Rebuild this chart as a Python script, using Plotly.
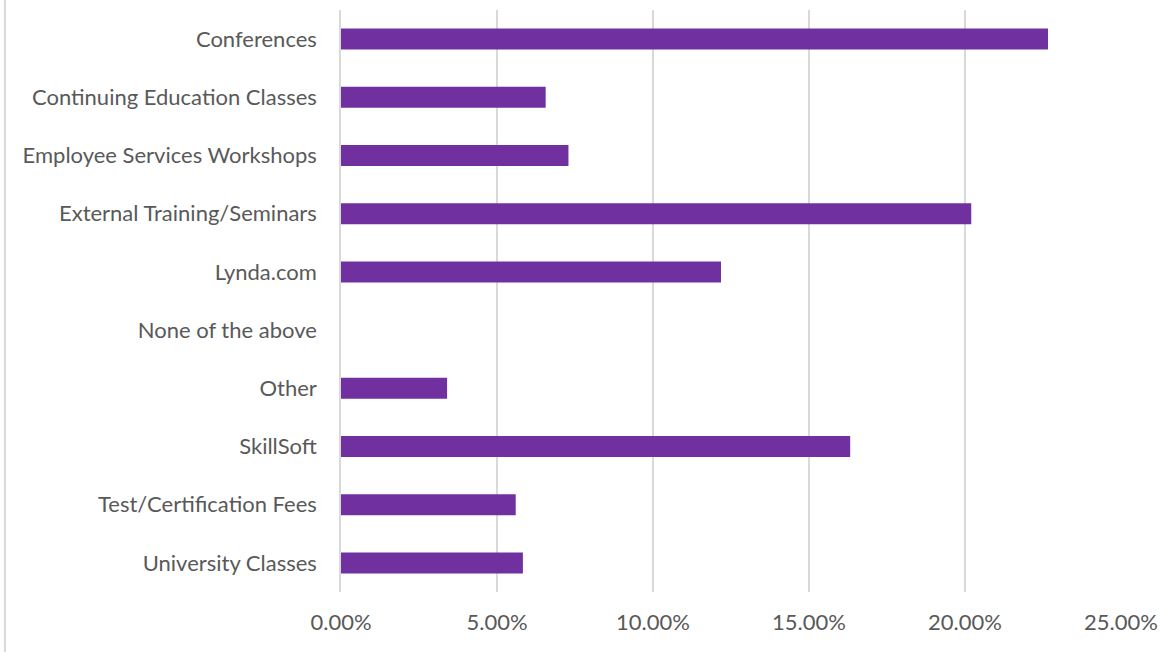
import plotly.graph_objects as go

categories = ["Conferences", "Continuing Education Classes", "Employee Services Workshops",
              "External Training/Seminars", "Lynda.com", "None of the above", "Other",
              "SkillSoft", "Test/Certification Fees", "University Classes"]
values = [0.2266, 0.0656, 0.0729, 0.2020, 0.1218, 0.0, 0.0340, 0.1632, 0.0560, 0.0583]
x_ticks = [0, 0.05, 0.10, 0.15, 0.20, 0.25]

fig = go.Figure(go.Bar(
    y=categories, x=values, orientation="h",
    marker=dict(color="#7030A0", line=dict(width=0)),
))

L, R, T, B = 340.5, 54.5, 10, 60
PW, PH = 1176 - L - R, 652 - T - B

font_family = "Lato, Calibri, Carlito, sans-serif"
fig.update_layout(
    width=1176, height=652,
    margin=dict(l=L, r=R, t=T, b=B),
    paper_bgcolor="white", plot_bgcolor="white",
    bargap=0.64,
    showlegend=False,
    font=dict(family=font_family, size=22, color="#595959"),
)
fig.update_xaxes(
    range=[0, 0.25], tickvals=x_ticks, tickformat=".2%",
    showgrid=True, gridcolor="#D9D9D9", gridwidth=1.5,
    zeroline=False, showline=False,
    ticks="", ticklabelstandoff=15,
    tickfont=dict(size=22, color="#595959"),
)
fig.update_yaxes(
    autorange="reversed", showgrid=False, zeroline=False,
    showline=True, linecolor="#D9D9D9", linewidth=1.5,
    ticks="", ticklabelstandoff=18,
    tickfont=dict(size=22, color="#595959"),
)
fig.add_shape(type="line", xref="paper", yref="paper", x0=(4 - L) / PW, x1=(4 - L) / PW,
              y0=-B / PH, y1=1 + T / PH, line=dict(color="#D9D9D9", width=2))
fig.write_html("out.html", config={"displayModeBar": False},
               post_script="document.body.style.margin='0';document.body.style.overflow='hidden';")
